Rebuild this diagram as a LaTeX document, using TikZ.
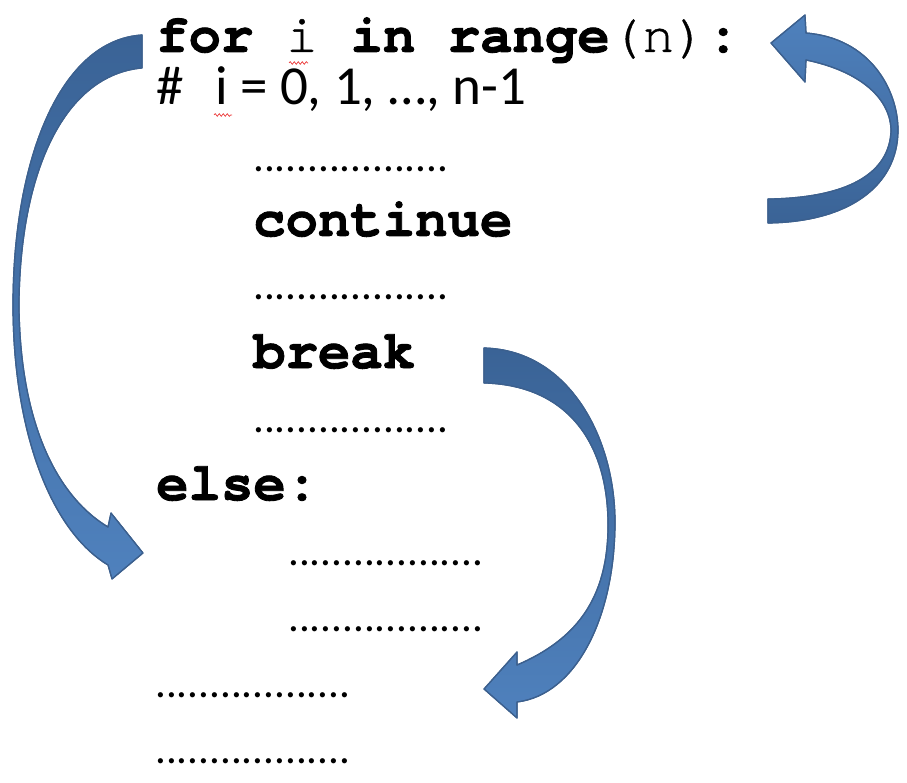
\documentclass[tikz,border=0pt]{standalone}
\usepackage{fontspec}
\setmainfont{Carlito}
\newfontfamily\codefont{texgyrecursor-regular}[Extension=.otf, BoldFont=texgyrecursor-bold, UprightFeatures={FakeBold=0.8}, BoldFeatures={FakeBold=1.6}]
\usetikzlibrary{decorations.pathmorphing}
\definecolor{armdark}{RGB}{58,99,150}
\definecolor{armlight}{RGB}{79,129,189}
\definecolor{armline}{RGB}{60,96,142}
\definecolor{squig}{RGB}{235,60,60}
\begin{document}
\begin{tikzpicture}[x=1pt,y=-1pt,
  code/.style={anchor=base west, inner sep=0pt, font=\codefont\fontsize{54}{54}\selectfont\bfseries},
  cmt/.style={anchor=base west, inner sep=0pt, font=\fontsize{55}{55}\selectfont},
  dotline/.style={anchor=base west, inner sep=0pt, font=\fontsize{43}{43}\selectfont},
  blockarrow/.style={draw=armline, line width=1.2pt, line join=round},
  wavy/.style={draw=squig, line width=0.7pt, decorate, decoration={snake, segment length=4pt, amplitude=1.3pt}}]
\useasboundingbox (0,0) rectangle (907,783);
% code text
\node[code] (for) at (156,52) {for {\mdseries i} in range{\mdseries(n)}:};
\node[cmt] (hash) at (156,105) {\#};
\node[cmt] (cmt) at (215,105) {i = 0, 1, …, n-1};
\node[dotline] (d1) at (253,172) {..................};
\node[code] (cont) at (253,236) {continue};
\node[dotline] (d2) at (253,300) {..................};
\node[code] (brk) at (253,368) {break};
\node[dotline] (d3) at (253,432) {..................};
\node[code] (else) at (156,500) {else:};
\node[dotline] (d4) at (288,565) {..................};
\node[dotline] (d5) at (288,631) {..................};
\node[dotline] (d6) at (155,697) {..................};
\node[dotline] (d7) at (155,763) {..................};
% spelling squiggles
\draw[wavy] (289,63) -- (308,63);
\draw[wavy] (214,115) -- (232,115);
% left arrow: for -> else
\shade[blockarrow, top color=armdark, bottom color=armlight]
  (142,35) .. controls (60,40) and (13,160) .. (13,305)
  .. controls (13,430) and (50,530) .. (108,565)
  -- (112,579) -- (143,553) -- (111,513) -- (108,527)
  .. controls (55,495) and (20,420) .. (19,305)
  .. controls (20,170) and (65,75) .. (142,68) -- cycle;
\draw[blockarrow] (142,35) .. controls (60,40) and (13,160) .. (13,305)
  .. controls (13,430) and (50,530) .. (108,565)
  -- (112,579) -- (143,553) -- (111,513) -- (108,527)
  .. controls (55,495) and (20,420) .. (19,305)
  .. controls (20,170) and (65,75) .. (142,68) -- cycle;
% right arrow: continue -> for
\shade[blockarrow, top color=armlight, bottom color=armdark]
  (768,223) .. controls (850,222) and (898,185) .. (898,130)
  .. controls (898,90) and (870,38) .. (806,33)
  -- (805,15) -- (771,43) -- (805,82) -- (806,60)
  .. controls (855,70) and (890,95) .. (891,130)
  .. controls (890,175) and (845,198) .. (768,199) -- cycle;
\draw[blockarrow]
  (768,223) .. controls (850,222) and (898,185) .. (898,130)
  .. controls (898,90) and (870,38) .. (806,33)
  -- (805,15) -- (771,43) -- (805,82) -- (806,60)
  .. controls (855,70) and (890,95) .. (891,130)
  .. controls (890,175) and (845,198) .. (768,199) -- cycle;
% break arrow
\shade[blockarrow, top color=armdark, bottom color=armlight]
  (484,348) .. controls (570,350) and (616,440) .. (615,525)
  .. controls (614,620) and (575,695) .. (517,702)
  -- (517,718) -- (484,689) -- (517,652) -- (517,665)
  .. controls (575,640) and (608,600) .. (608,525)
  .. controls (608,440) and (565,385) .. (484,383) -- cycle;
\draw[blockarrow]
  (484,348) .. controls (570,350) and (616,440) .. (615,525)
  .. controls (614,620) and (575,695) .. (517,702)
  -- (517,718) -- (484,689) -- (517,652) -- (517,665)
  .. controls (575,640) and (608,600) .. (608,525)
  .. controls (608,440) and (565,385) .. (484,383) -- cycle;
\end{tikzpicture}
\end{document}
